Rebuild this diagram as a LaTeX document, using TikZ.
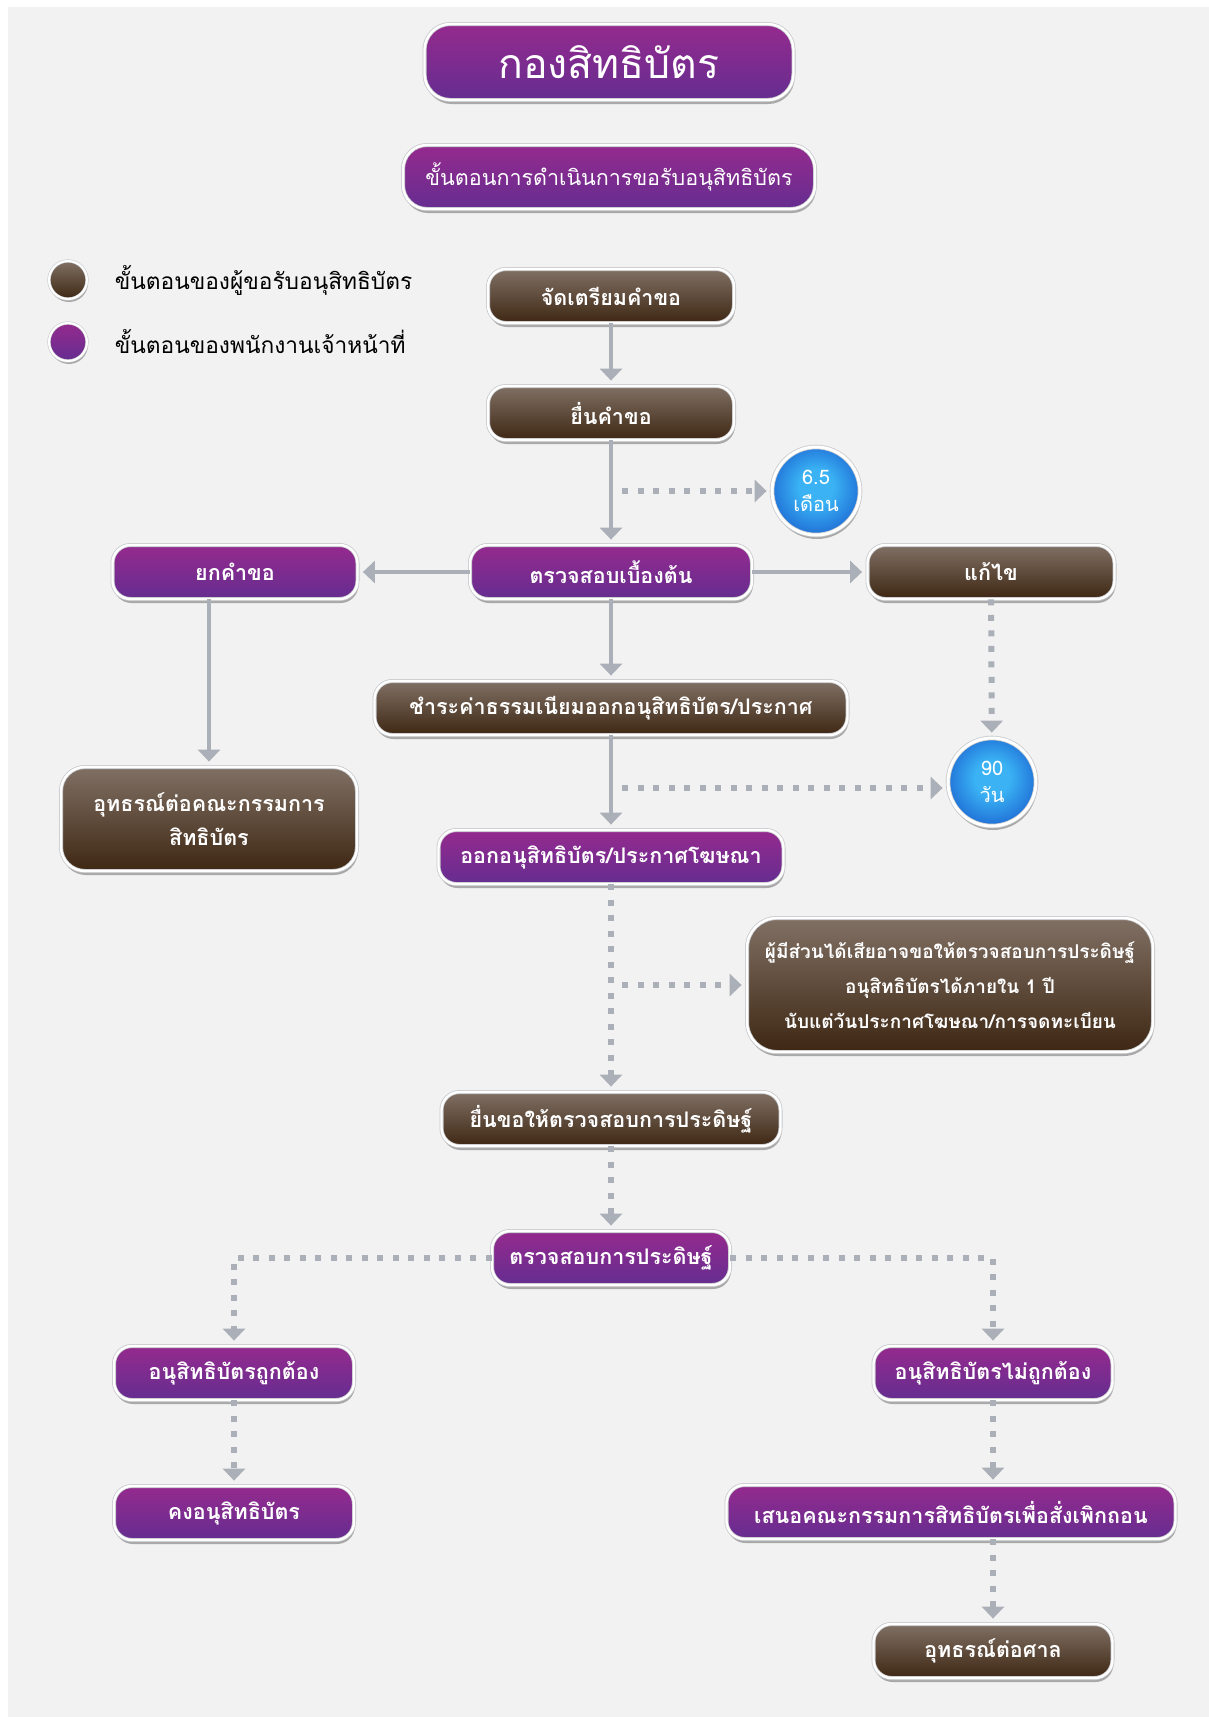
\documentclass[tikz,border=0pt]{standalone}
\usepackage{fontspec}
\newfontfamily\thaifont[Script=Thai]{Loma}
\usetikzlibrary{shapes, calc, arrows.meta, positioning, shadows}

\definecolor{bgcol}{HTML}{F2F2F2}
\definecolor{linecol}{HTML}{ABB0B8}
\definecolor{rimcol}{HTML}{C8CACD}
\definecolor{putop}{HTML}{952A8E}
\definecolor{pumid}{HTML}{6A2D90}
\definecolor{pubot}{HTML}{652D90}
\definecolor{brtop}{HTML}{807064}
\definecolor{brbot}{HTML}{3E2713}
\definecolor{blin}{HTML}{3AB2F4}
\definecolor{blout}{HTML}{1A62D0}

\pgfdeclareradialshading{timerball}{\pgfpoint{0bp}{3bp}}{color(0bp)=(blin); color(10bp)=(blin); color(24bp)=(blout!70!blin); color(30bp)=(blout); color(50bp)=(blout)}

\tikzset{
  box/.style={rounded corners=18pt, draw=rimcol, double=white, double distance=2.4pt, line width=.8pt,
    text=white, align=center, minimum height=54pt, inner xsep=10pt, font=\thaifont\bfseries\fontsize{21.5}{34}\selectfont,
    drop shadow={shadow xshift=1pt, shadow yshift=-4pt, opacity=.3, fill=black}},
  applicant/.style={box, top color=brtop, middle color=brbot, bottom color=brbot},
  officer/.style={box, top color=putop, middle color=pumid, bottom color=pubot},
  timer/.style={circle, draw=rimcol, double=white, double distance=3pt, line width=.8pt, shading=timerball,
    minimum size=88pt, inner sep=0pt, text=white, align=center, font=\thaifont\fontsize{20}{27}\selectfont,
    drop shadow={shadow xshift=1pt, shadow yshift=-4pt, opacity=.3, fill=black}},
  legdot/.style={circle, draw=rimcol, double=white, double distance=2pt, line width=.6pt, minimum size=38pt,
    drop shadow={shadow xshift=1pt, shadow yshift=-3pt, opacity=.3, fill=black}},
  legtext/.style={font=\thaifont\fontsize{22.7}{26}\selectfont, anchor=west},
  flow/.style={draw=linecol, line width=4.5pt, -{Triangle[width=22pt,length=12pt]}, shorten >=5pt},
  dots/.style={flow, line width=6pt, dash pattern=on 6pt off 9.5pt},
}

\begin{document}
\begin{tikzpicture}[x=1pt, y=-1pt]
    \useasboundingbox (0,0) rectangle (1209,1717);
    \fill[bgcol] (8,7) rectangle (1209,1717);

    \node[officer, font=\thaifont\fontsize{41}{44}\selectfont, minimum width=369pt, minimum height=76pt, rounded corners=26pt] (title) at (609,62) {กองสิทธิบัตร};
    \node[officer, font=\thaifont\fontsize{21.5}{26}\selectfont, minimum width=412pt, minimum height=64pt, rounded corners=24pt] (subtitle) at (609,177) {ขั้นตอนการดำเนินการขอรับอนุสิทธิบัตร};

    \node[legdot, top color=brtop, bottom color=brbot] (legapp) at (68,280) {};
    \node[legtext, right=24pt of legapp] {ขั้นตอนของผู้ขอรับอนุสิทธิบัตร};
    \node[legdot, top color=putop, bottom color=pubot] (legoff) at (68,342) {};
    \node[legtext, right=24pt of legoff] {ขั้นตอนของพนักงานเจ้าหน้าที่};

    \node[applicant, minimum width=246pt] (prep) at (611,296) {จัดเตรียมคำขอ};
    \node[applicant, minimum width=246pt] (submit) at (611,413) {ยื่นคำขอ};
    \node[timer] (c65) at (816,491) {6.5\\เดือน};

    \node[officer, minimum width=282pt] (exam) at (611,572) {ตรวจสอบเบื้องต้น};
    \node[officer, minimum width=245pt] (reject) at (235,572) {ยกคำขอ};
    \node[applicant, minimum width=247pt] (fix) at (991,572) {แก้ไข};

    \node[applicant, minimum width=473pt] (pay) at (611,708) {ชำระค่าธรรมเนียมออกอนุสิทธิบัตร/ประกาศ};
    \node[timer] (c90) at (992,782) {90\\วัน};
    \node[applicant, minimum width=296pt, minimum height=104pt, rounded corners=24pt] (appeal) at (209,819) {อุทธรณ์ต่อคณะกรรมการ\\สิทธิบัตร};

    \node[officer, minimum width=345pt] (issue) at (611,857) {ออกอนุสิทธิบัตร/ประกาศโฆษณา};
    \node[applicant, minimum width=406pt, minimum height=134pt, rounded corners=30pt,
          font=\thaifont\bfseries\fontsize{19}{35}\selectfont] (stake) at (950,985)
          {ผู้มีส่วนได้เสียอาจขอให้ตรวจสอบการประดิษฐ์\\อนุสิทธิบัตรได้ภายใน 1 ปี\\นับแต่วันประกาศโฆษณา/การจดทะเบียน};

    \node[applicant, minimum width=339pt] (req) at (611,1119) {ยื่นขอให้ตรวจสอบการประดิษฐ์};
    \node[officer, minimum width=238pt] (inv) at (611,1258) {ตรวจสอบการประดิษฐ์};

    \node[officer, minimum width=240pt] (ok) at (234,1373) {อนุสิทธิบัตรถูกต้อง};
    \node[officer, minimum width=239pt] (notok) at (993,1373) {อนุสิทธิบัตรไม่ถูกต้อง};
    \node[officer, minimum width=240pt] (keep) at (234,1513) {คงอนุสิทธิบัตร};
    \node[officer, minimum width=449pt] (propose) at (951,1512) {เสนอคณะกรรมการสิทธิบัตรเพื่อสั่งเพิกถอน};
    \node[applicant, minimum width=239pt] (court) at (993,1651) {อุทธรณ์ต่อศาล};

    \coordinate (br65) at (622,491);
    \coordinate (br90) at (622,788);
    \coordinate (brst) at (622,985);

    \draw[flow] (prep) -- (submit);
    \draw[flow] (submit) -- (exam);
    \draw[dots] (br65) -- (c65);
    \draw[flow] (exam) -- (reject);
    \draw[flow] (exam) -- (fix);
    \draw[flow] (exam) -- (pay);
    \draw[dots] (fix) -- (c90);
    \draw[flow] (appeal.north |- reject.south) -- (appeal.north);
    \draw[flow] (pay) -- (issue);
    \draw[dots] (br90) -- (br90 -| c90.west);
    \draw[dots] (issue) -- (req);
    \draw[dots] (brst) -- (stake);
    \draw[dots] (req) -- (inv);
    \draw[dots] (inv.west) -| (ok.north);
    \draw[dots] (inv.east) -| (notok.north);
    \draw[dots] (ok) -- (keep);
    \draw[dots] (notok.south) -- (notok.south |- propose.north);
    \draw[dots] (court.north |- propose.south) -- (court.north);
\end{tikzpicture}
\end{document}
